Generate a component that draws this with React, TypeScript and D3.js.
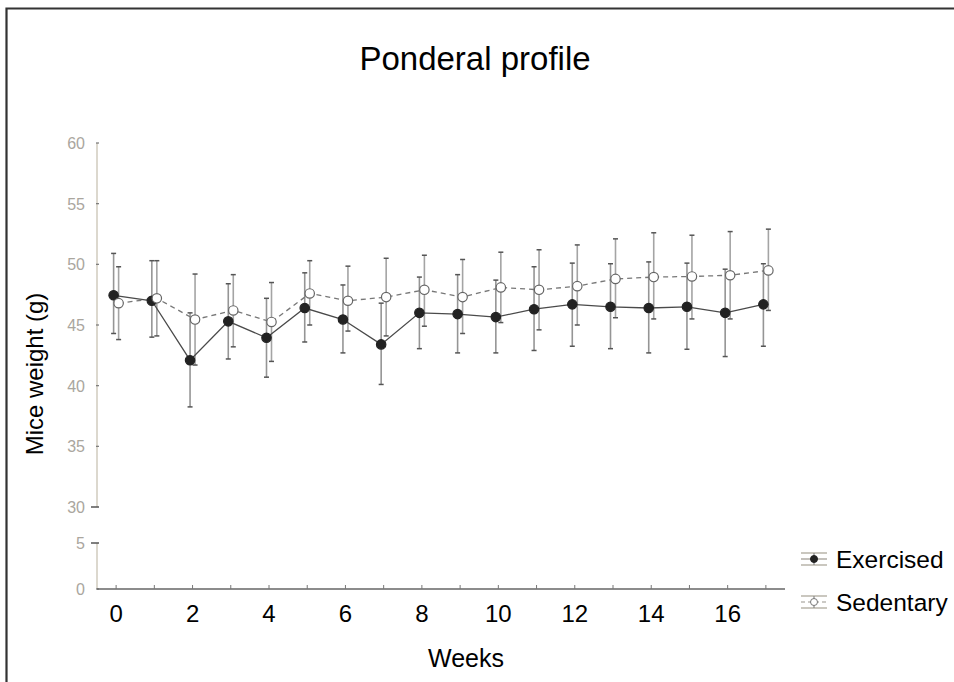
import React, { useEffect, useRef } from 'react';
import * as d3 from 'd3';

// weekly mean body weight (g) with error bar ends
const weeks = [0, 1, 2, 3, 4, 5, 6, 7, 8, 9, 10, 11, 12, 13, 14, 15, 16, 17];
const exercisedMean = [47.45, 47.0, 42.1, 45.3, 43.95, 46.4, 45.45, 43.4, 46.0, 45.9, 45.65, 46.3, 46.7, 46.5, 46.4, 46.5, 46.0, 46.7];
const exercisedUpper = [50.9, 50.3, 46.0, 48.4, 47.2, 49.3, 48.3, 46.8, 48.95, 49.15, 48.7, 49.8, 50.1, 50.05, 50.2, 50.1, 49.6, 50.05];
const exercisedLower = [44.3, 44.0, 38.25, 42.2, 40.7, 43.6, 42.7, 40.1, 43.05, 42.7, 42.7, 42.9, 43.25, 43.05, 42.7, 43.0, 42.4, 43.25];
const sedentaryMean = [46.8, 47.2, 45.45, 46.2, 45.25, 47.6, 47.0, 47.3, 47.9, 47.3, 48.1, 47.9, 48.2, 48.8, 48.95, 49.0, 49.1, 49.5];
const sedentaryUpper = [49.8, 50.3, 49.2, 49.15, 48.5, 50.3, 49.85, 50.5, 50.75, 50.4, 51.0, 51.2, 51.6, 52.1, 52.6, 52.4, 52.7, 52.9];
const sedentaryLower = [43.8, 44.1, 41.7, 43.2, 42.0, 45.0, 44.5, 44.1, 44.9, 44.3, 45.2, 44.6, 45.0, 45.6, 45.5, 45.5, 45.5, 46.2];

const upperTicks = [30, 35, 40, 45, 50, 55, 60];
const lowerTicks = [0, 5];
const xLabelTicks = [0, 2, 4, 6, 8, 10, 12, 14, 16];
const seriesNames = ['Exercised', 'Sedentary'];

const FONT = 'Liberation Sans, Arial, Helvetica, sans-serif';

export default function App() {
  const ref = useRef<SVGSVGElement>(null);

  useEffect(() => {
    if (!ref.current) return;
    const svg = d3.select(ref.current);
    svg.selectAll('*').remove();

    const width = 954;
    const height = 682;

    // x: weeks, half a week of padding each side
    const x = d3.scaleLinear().domain([-0.5, 17.5]).range([97, 785]);
    // y: broken axis, 0-5 at the bottom, 30-60 above
    const y = d3.scaleLinear().domain([0, 5, 30, 60]).range([589, 543, 507, 143]);

    svg.append('rect').attr('width', width).attr('height', height).attr('fill', '#fff');

    // outer frame (top and left only)
    svg.append('path')
      .attr('d', `M6.5,${height} L6.5,8.5 L${width},8.5`)
      .attr('fill', 'none')
      .attr('stroke', '#333')
      .attr('stroke-width', 2.2);

    // title
    svg.append('text')
      .attr('x', 475).attr('y', 70)
      .attr('text-anchor', 'middle')
      .style('font-family', FONT)
      .style('font-size', '33px')
      .text('Ponderal profile');

    // y axis segments
    const axisX = x(-0.5);
    [[30, 60], [0, 5]].forEach(([a, b]) => {
      svg.append('line')
        .attr('x1', axisX).attr('x2', axisX)
        .attr('y1', y(a)).attr('y2', y(b))
        .attr('stroke', '#dcd8ce')
        .attr('stroke-width', 2);
    });

    const yTicks = svg.append('g');
    [...upperTicks, ...lowerTicks].forEach((t) => {
      const strong = t === 30 || t === 5;
      yTicks.append('line')
        .attr('x1', strong ? axisX - 6 : axisX - 1).attr('x2', axisX + 2)
        .attr('y1', y(t)).attr('y2', y(t))
        .attr('stroke', strong ? '#555' : '#777')
        .attr('stroke-width', strong ? 1.5 : 1.2);
      yTicks.append('text')
        .attr('x', 85).attr('y', y(t) + 6)
        .attr('text-anchor', 'end')
        .style('font-family', FONT)
        .style('font-size', '16px')
        .style('fill', '#aaa69e')
        .text(t);
    });

    // x axis
    svg.append('line')
      .attr('x1', x(-0.5)).attr('x2', x(17.5))
      .attr('y1', y(0)).attr('y2', y(0))
      .attr('stroke', '#666')
      .attr('stroke-width', 1.5);

    svg.append('g')
      .selectAll('line')
      .data(weeks)
      .enter()
      .append('line')
      .attr('x1', (d) => x(d)).attr('x2', (d) => x(d))
      .attr('y1', y(0) - 4).attr('y2', y(0))
      .attr('stroke', '#777')
      .attr('stroke-width', 1);

    svg.append('g')
      .selectAll('text')
      .data(xLabelTicks)
      .enter()
      .append('text')
      .attr('x', (d) => x(d)).attr('y', 622)
      .attr('text-anchor', 'middle')
      .style('font-family', FONT)
      .style('font-size', '24px')
      .text((d) => d);

    // axis titles
    svg.append('text')
      .attr('x', 466).attr('y', 667)
      .attr('text-anchor', 'middle')
      .style('font-family', FONT)
      .style('font-size', '25px')
      .text('Weeks');

    svg.append('text')
      .attr('transform', 'translate(43,374) rotate(-90)')
      .attr('text-anchor', 'middle')
      .style('font-family', FONT)
      .style('font-size', '24px')
      .text('Mice weight (g)');

    const series = [
      { mean: exercisedMean, upper: exercisedUpper, lower: exercisedLower, dx: -2.5, filled: true },
      { mean: sedentaryMean, upper: sedentaryUpper, lower: sedentaryLower, dx: 2.5, filled: false },
    ];

    // error bars
    series.forEach((s) => {
      const g = svg.append('g');
      weeks.forEach((w, i) => {
        const cx = x(w) + s.dx;
        g.append('line')
          .attr('x1', cx).attr('x2', cx)
          .attr('y1', y(s.upper[i])).attr('y2', y(s.lower[i]))
          .attr('stroke', s.filled ? '#959595' : '#a4a4a4')
          .attr('stroke-width', 1.6);
        [s.upper[i], s.lower[i]].forEach((v) => {
          g.append('line')
            .attr('x1', cx - 2.5).attr('x2', cx + 2.5)
            .attr('y1', y(v)).attr('y2', y(v))
            .attr('stroke', '#555')
            .attr('stroke-width', 1.5);
        });
      });
    });

    // connecting lines
    series.forEach((s) => {
      const line = d3.line<number>()
        .x((_, i) => x(weeks[i]) + s.dx)
        .y((d) => y(d));
      svg.append('path')
        .datum(s.mean)
        .attr('d', line)
        .attr('fill', 'none')
        .attr('stroke', s.filled ? '#4a4a4a' : '#777')
        .attr('stroke-width', 1.3)
        .attr('stroke-dasharray', s.filled ? null : '5,4');
    });

    // markers
    series.forEach((s) => {
      svg.append('g')
        .selectAll('circle')
        .data(s.mean)
        .enter()
        .append('circle')
        .attr('cx', (_, i) => x(weeks[i]) + s.dx)
        .attr('cy', (d) => y(d))
        .attr('r', 4.7)
        .attr('fill', s.filled ? '#222' : '#fff')
        .attr('stroke', s.filled ? '#222' : '#666')
        .attr('stroke-width', 1.2);
    });

    // legend
    const legend = svg.append('g');
    seriesNames.forEach((name, i) => {
      const cy = 559 + i * 43;
      const cx = 814;
      const filled = i === 0;
      [-6, 6].forEach((off) => {
        legend.append('line')
          .attr('x1', cx - 13).attr('x2', cx + 13)
          .attr('y1', cy + off).attr('y2', cy + off)
          .attr('stroke', '#b8b4aa')
          .attr('stroke-width', 1.5);
      });
      legend.append('line')
        .attr('x1', cx - 13).attr('x2', cx + 13)
        .attr('y1', cy).attr('y2', cy)
        .attr('stroke', '#9a968e')
        .attr('stroke-width', 1.2)
        .attr('stroke-dasharray', filled ? null : '4,3');
      legend.append('line')
        .attr('x1', cx).attr('x2', cx)
        .attr('y1', cy - 6).attr('y2', cy + 6)
        .attr('stroke', '#888')
        .attr('stroke-width', 1.2);
      legend.append('circle')
        .attr('cx', cx).attr('cy', cy)
        .attr('r', 3.5)
        .attr('fill', filled ? '#222' : '#fff')
        .attr('stroke', filled ? '#222' : '#777')
        .attr('stroke-width', 1);
      legend.append('text')
        .attr('x', 836).attr('y', cy + 9)
        .style('font-family', FONT)
        .style('font-size', '24.5px')
        .text(name);
    });
  }, []);

  return (
    <svg
      ref={ref}
      width={954}
      height={682}
      style={{ position: 'absolute', left: 0, top: 0, display: 'block' }}
    />
  );
}
